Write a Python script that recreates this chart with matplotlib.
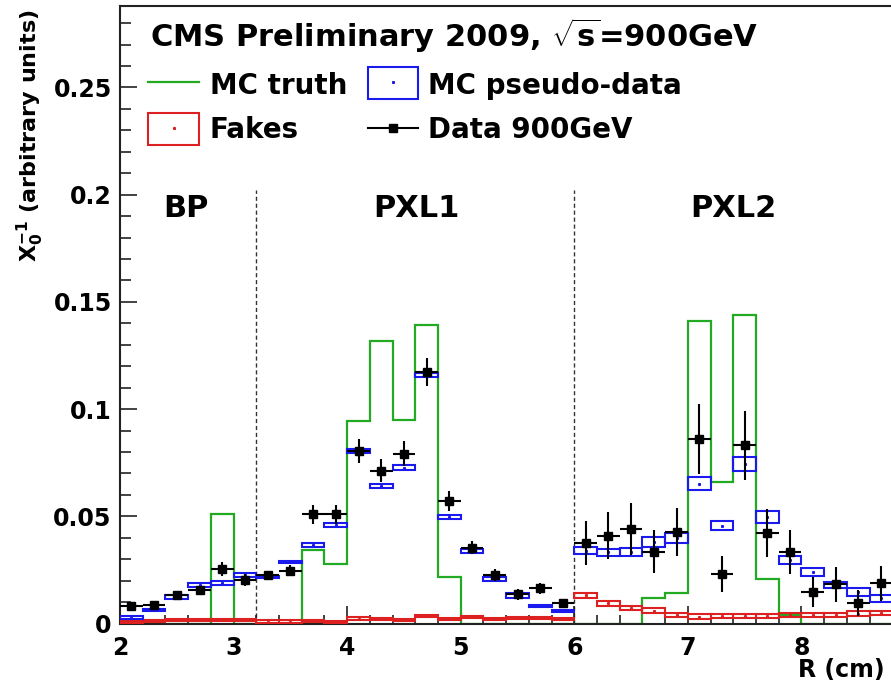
import numpy as np
import matplotlib
matplotlib.use('Agg')
import matplotlib.pyplot as plt
from matplotlib.patches import Rectangle
from matplotlib.lines import Line2D
from matplotlib.ticker import MultipleLocator, FuncFormatter

plt.rcParams['font.family'] = 'DejaVu Sans'
plt.rcParams['font.weight'] = 'bold'
plt.rcParams['mathtext.fontset'] = 'custom'
plt.rcParams['mathtext.rm'] = 'DejaVu Sans:bold'
plt.rcParams['mathtext.bf'] = 'DejaVu Sans:bold'
plt.rcParams['mathtext.it'] = 'DejaVu Sans:bold:italic'

# radial bins, 2 mm wide, low edges from 2.0 to 8.6 cm
bin_lo = np.round(np.arange(2.0, 8.7, 0.2), 1)
bin_w = 0.2

mc_truth = [0, 0, 0, 0, 0.051, 0, 0, 0, 0.0344, 0.0276,
            0.0945, 0.1317, 0.0951, 0.1394, 0.0218, 0, 0, 0, 0, 0,
            0, 0, 0, 0.0119, 0.0144, 0.1412, 0.066, 0.1438, 0.0208, 0.004,
            0, 0, 0, 0]

pseudo = [0.0027, 0.0063, 0.0124, 0.0181, 0.0188, 0.0226, 0.0218, 0.0287, 0.0365, 0.046,
          0.0806, 0.0642, 0.0727, 0.116, 0.0496, 0.0338, 0.0209, 0.013, 0.0083, 0.0058,
          0.034, 0.0332, 0.0334, 0.038, 0.0399, 0.0651, 0.0457, 0.0743, 0.0497, 0.0295,
          0.0239, 0.0181, 0.0147, 0.0118]
pseudo_err = [0.0008, 0.0005, 0.0008, 0.001, 0.001, 0.001, 0.0005, 0.0005, 0.001, 0.001,
              0.001, 0.001, 0.001, 0.001, 0.001, 0.001, 0.001, 0.001, 0.0005, 0.0005,
              0.0018, 0.0017, 0.0017, 0.0022, 0.0023, 0.003, 0.0023, 0.0033, 0.0026, 0.0019,
              0.0019, 0.0014, 0.0017, 0.0016]

fakes = [0.0006, 0.001, 0.0016, 0.0016, 0.0016, 0.0016, 0.0009, 0.0009, 0.0013, 0.0007,
         0.0023, 0.002, 0.0018, 0.0033, 0.002, 0.0029, 0.0022, 0.0027, 0.0027, 0.0022,
         0.0131, 0.0094, 0.0072, 0.006, 0.0041, 0.0032, 0.0035, 0.0035, 0.0035, 0.004,
         0.0041, 0.004, 0.0046, 0.0049]
fakes_err = [0.0005] * 20 + [0.0013, 0.0011, 0.001, 0.001, 0.001, 0.001, 0.001,
                             0.001, 0.001, 0.001, 0.001, 0.001, 0.001, 0.001]

data = [0.0082, 0.0086, 0.0131, 0.0156, 0.0253, 0.0203, 0.0226, 0.0246, 0.051, 0.051,
        0.0806, 0.0712, 0.0792, 0.1172, 0.0572, 0.0354, 0.0226, 0.0136, 0.0164, 0.0094,
        0.0376, 0.041, 0.0441, 0.0335, 0.0428, 0.0862, 0.0231, 0.0831, 0.0422, 0.0332,
        0.0148, 0.0183, 0.0094, 0.0188]
data_err = [0.001, 0.0012, 0.0015, 0.002, 0.0033, 0.003, 0.002, 0.0025, 0.0044, 0.0044,
            0.0056, 0.0053, 0.0058, 0.0066, 0.0047, 0.003, 0.003, 0.0025, 0.0025, 0.002,
            0.0103, 0.011, 0.012, 0.010, 0.0113, 0.0163, 0.0085, 0.016, 0.0113, 0.0102,
            0.007, 0.0082, 0.0061, 0.0082]

x_ticks = [2, 3, 4, 5, 6, 7, 8]
layers = ['BP', 'PXL1', 'PXL2']
layer_bounds = [3.2, 6.0]

green = '#22aa22'
blue = '#1a1aee'
red = '#dd2020'

W, H = 891, 688
fig = plt.figure(figsize=(W / 100, H / 100), dpi=100)


def fx(p):
    return p / W


def fy(p):
    return 1 - p / H


# axis runs on past the right edge of the canvas
ax = fig.add_axes([fx(120), fy(623.5), 795 / W, 617.5 / H])
ax.set_xlim(2, 9)
ax.set_ylim(0, 0.288)

edges = np.append(bin_lo, bin_lo[-1] + bin_w)
centers = bin_lo + bin_w / 2
pseudo = np.array(pseudo)
pseudo_err = np.array(pseudo_err)
fakes = np.array(fakes)
fakes_err = np.array(fakes_err)

ax.stairs(mc_truth, edges, color=green, lw=1.6, zorder=2)

ax.bar(bin_lo, 2 * fakes_err, width=bin_w, bottom=fakes - fakes_err, align='edge',
       fill=False, edgecolor=red, lw=1.5, zorder=3)
ax.plot(centers, fakes, ls='none', marker='s', ms=1.2, color=red, zorder=3)

ax.bar(bin_lo, 2 * pseudo_err, width=bin_w, bottom=pseudo - pseudo_err, align='edge',
       fill=False, edgecolor=blue, lw=1.5, zorder=4)
ax.plot(centers, pseudo, ls='none', marker='s', ms=1.2, color=blue, zorder=4)

ax.errorbar(centers, data, xerr=bin_w / 2, yerr=data_err, fmt='s', color='black',
            ms=6, elinewidth=1.5, capsize=0, zorder=5)

for xb in layer_bounds:
    ax.plot([xb, xb], [0, 0.202], color='#333333', lw=1, ls=(0, (3, 2)), zorder=1)

# axes styling
for side in ['left', 'top', 'bottom']:
    ax.spines[side].set_linewidth(1.5)
    ax.spines[side].set_color('#222222')
ax.spines['right'].set_visible(False)

ax.set_xticks(x_ticks)
ax.xaxis.set_minor_locator(MultipleLocator(0.2))
ax.yaxis.set_major_locator(MultipleLocator(0.05))
ax.yaxis.set_minor_locator(MultipleLocator(0.01))
ax.yaxis.set_major_formatter(FuncFormatter(lambda v, p: '%g' % round(v, 3)))
ax.tick_params(which='both', direction='in', top=False, right=False, color='#222222')
ax.tick_params(axis='x', which='major', length=13, width=1.2, pad=9, labelsize=17)
ax.tick_params(axis='x', which='minor', length=6.5, width=1.2)
ax.tick_params(axis='y', which='major', length=12, width=1.2, pad=6, labelsize=17)
ax.tick_params(axis='y', which='minor', length=8, width=1.2)
for lab in ax.get_xticklabels() + ax.get_yticklabels():
    lab.set_fontweight('bold')

# titles and labels
fig.text(fx(150), fy(47), r'CMS Preliminary 2009, $\sqrt{\mathrm{s}}$=900GeV',
         fontsize=22, fontweight='bold', ha='left', va='baseline')
fig.text(fx(30), fy(9), r'$\mathrm{X}_{0}^{-1}$ (arbitrary units)', rotation=90,
         fontsize=16, fontweight='bold', ha='center', va='top')
fig.text(fx(885), fy(677), 'R (cm)', fontsize=17, fontweight='bold',
         ha='right', va='baseline')

for name, xl in zip(layers, [163, 373, 690]):
    fig.text(fx(xl), fy(217), name, fontsize=22, fontweight='bold',
             ha='left', va='baseline')

# legend, two columns
tf = fig.transFigure
fig.add_artist(Line2D([fx(148), fx(199)], [fy(82), fy(82)], color=green, lw=1.6,
                      transform=tf))
fig.add_artist(Rectangle((fx(368), fy(99)), fx(50), 32 / H, fill=False,
                         edgecolor=blue, lw=1.5, transform=tf))
fig.add_artist(Rectangle((fx(148), fy(145)), fx(51), 32 / H, fill=False,
                         edgecolor=red, lw=1.5, transform=tf))
fig.add_artist(Line2D([fx(393)], [fy(82)], ls='none', marker='s', ms=1.2,
                      color=blue, transform=tf))
fig.add_artist(Line2D([fx(174)], [fy(128)], ls='none', marker='s', ms=1.2,
                      color=red, transform=tf))
fig.add_artist(Line2D([fx(368), fx(418)], [fy(128), fy(128)], color='black',
                      lw=1.5, transform=tf))
fig.add_artist(Line2D([fx(393)], [fy(128)], ls='none', marker='s', ms=6,
                      color='black', transform=tf))

leg_txt = [('MC truth', 210, 94), ('MC pseudo-data', 428, 94),
           ('Fakes', 210, 138), ('Data 900GeV', 428, 138)]
for t, xl, yb in leg_txt:
    fig.text(fx(xl), fy(yb), t, fontsize=20, fontweight='bold',
             ha='left', va='baseline')

fig.savefig('out.png', dpi=100)
